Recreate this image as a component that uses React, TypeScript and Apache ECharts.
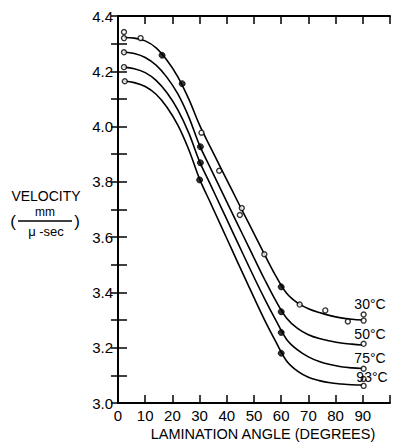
import React, { useEffect, useRef } from "react";
import * as echarts from "echarts";

const ANGLES = [2, 6, 10, 14, 18, 22, 26, 30, 34, 38, 42, 46, 50, 54, 58, 62, 66, 70, 74, 78, 82, 86, 90];
const V30 = [4.322, 4.32, 4.31, 4.285, 4.24, 4.18, 4.1, 4.005, 3.925, 3.846, 3.768, 3.69, 3.613, 3.535, 3.46, 3.397, 3.362, 3.341, 3.327, 3.316, 3.308, 3.303, 3.3];
const V50 = [4.27, 4.264, 4.25, 4.222, 4.178, 4.118, 4.035, 3.932, 3.85, 3.768, 3.687, 3.606, 3.525, 3.445, 3.37, 3.307, 3.27, 3.247, 3.233, 3.224, 3.217, 3.213, 3.21];
const V75 = [4.215, 4.209, 4.195, 4.167, 4.122, 4.06, 3.977, 3.873, 3.79, 3.706, 3.622, 3.538, 3.455, 3.375, 3.3, 3.23, 3.192, 3.167, 3.15, 3.139, 3.131, 3.127, 3.125];
const V93 = [4.165, 4.159, 4.145, 4.117, 4.07, 4.005, 3.917, 3.81, 3.724, 3.638, 3.552, 3.466, 3.381, 3.298, 3.222, 3.152, 3.115, 3.093, 3.081, 3.073, 3.069, 3.066, 3.065];

const OPEN_PTS: [number, number][] = [
  [2.2, 4.342], [2.2, 4.32], [8.3, 4.32], [30.7, 3.978], [37.2, 3.84],
  [45.5, 3.705], [44.8, 3.68], [53.8, 3.538], [66.8, 3.356], [76.2, 3.335],
  [84.5, 3.295], [90.3, 3.32], [90.3, 3.298],
  [2.2, 4.269], [90.3, 3.214],
  [2.2, 4.215], [90.3, 3.124],
  [2.5, 4.164], [90.3, 3.087], [90.3, 3.062],
];
const FILLED_PTS: [number, number][] = [
  [16.2, 4.258], [23.6, 4.155], [30.3, 3.927], [30.3, 3.869], [30, 3.807],
  [60, 3.42], [60, 3.33], [60, 3.255], [60, 3.18],
];
const CURVE_LABELS = ["30°C", "50°C", "75°C", "93°C"];
const X_TICKS_MAX = 100;

const FONT = "Liberation Sans, Arial, sans-serif";

export default function App() {
  const ref = useRef<HTMLDivElement>(null);
  useEffect(() => {
    if (!ref.current) return;
    const chart = echarts.init(ref.current, null, { renderer: "svg" });
    const curves = [V30, V50, V75, V93];
    const lineSeries = curves.map((vals, i) => ({
      type: "line",
      name: CURVE_LABELS[i],
      data: ANGLES.map((a, j) => [a, vals[j]]),
      smooth: 0.35,
      showSymbol: false,
      lineStyle: { color: "#000", width: 1.6 },
      xAxisIndex: 0,
      yAxisIndex: 0,
      z: 2,
    }));
    const axisLine = { show: true, lineStyle: { color: "#000", width: 2 } };
    const labelPos = [
      { x: 370, y: 304 },
      { x: 370, y: 334 },
      { x: 370, y: 358 },
      { x: 372, y: 377 },
    ];
    chart.setOption({
      animation: false,
      backgroundColor: "#fff",
      grid: { left: 118, right: -2, top: 16, bottom: 40, containLabel: false },
      xAxis: [
        {
          type: "value",
          min: 0,
          max: X_TICKS_MAX,
          interval: 10,
          position: "bottom",
          axisLine,
          axisTick: { show: true, inside: true, length: 8, lineStyle: { color: "#000", width: 1.5 } },
          splitLine: { show: false },
          axisLabel: {
            color: "#000",
            fontFamily: FONT,
            fontSize: 15,
            margin: 5,
            formatter: (v: number) => (v >= 100 ? "" : String(v)),
          },
        },
        {
          type: "value",
          min: 0,
          max: X_TICKS_MAX,
          interval: 10,
          position: "top",
          axisLine,
          axisTick: { show: true, inside: true, length: 8, lineStyle: { color: "#000", width: 1.5 } },
          splitLine: { show: false },
          axisLabel: { show: false },
        },
      ],
      yAxis: [
        {
          type: "value",
          min: 3.0,
          max: 4.4,
          interval: 0.1,
          position: "left",
          axisLine,
          axisTick: { show: true, inside: true, length: 9, lineStyle: { color: "#000", width: 1.5 } },
          splitLine: { show: false },
          axisLabel: {
            color: "#000",
            fontFamily: FONT,
            fontSize: 15,
            margin: 5,
            formatter: (v: number) => (Math.round(v * 10) % 2 === 0 ? v.toFixed(1) : ""),
          },
        },
        {
          type: "value",
          min: 3.0,
          max: 4.4,
          interval: 0.1,
          position: "right",
          axisLine,
          axisTick: { show: true, inside: true, length: 7, lineStyle: { color: "#000", width: 1.5 } },
          splitLine: { show: false },
          axisLabel: { show: false },
        },
      ],
      series: [
        ...lineSeries,
        {
          type: "scatter",
          data: OPEN_PTS,
          symbol: "circle",
          symbolSize: 5,
          itemStyle: { color: "#fff", borderColor: "#000", borderWidth: 1.4 },
          z: 3,
        },
        {
          type: "scatter",
          data: FILLED_PTS,
          symbol: "circle",
          symbolSize: 6,
          itemStyle: { color: "#000", borderColor: "#000", borderWidth: 1 },
          z: 3,
        },
      ],
      graphic: [
        ...CURVE_LABELS.map((t, i) => ({
          type: "text",
          x: labelPos[i].x,
          y: labelPos[i].y,
          style: {
            text: t,
            fill: "#000",
            font: `14px ${FONT}`,
            align: "center",
            verticalAlign: "middle",
          },
          z: 10,
        })),
        {
          type: "text",
          x: 263,
          y: 434,
          style: {
            text: "LAMINATION ANGLE (DEGREES)",
            fill: "#000",
            font: `14.5px ${FONT}`,
            align: "center",
            verticalAlign: "middle",
          },
        },
        {
          type: "text",
          x: 46,
          y: 196,
          style: { text: "VELOCITY", fill: "#000", font: `14px ${FONT}`, align: "center", verticalAlign: "middle" },
        },
        {
          type: "text",
          x: 45,
          y: 212,
          style: { text: "mm", fill: "#000", font: `12px ${FONT}`, align: "center", verticalAlign: "middle" },
        },
        {
          type: "line",
          shape: { x1: 18, y1: 221, x2: 72, y2: 221 },
          style: { stroke: "#000", lineWidth: 1.5 },
        },
        {
          type: "text",
          x: 46,
          y: 231,
          style: { text: "μ -sec", fill: "#000", font: `13px ${FONT}`, align: "center", verticalAlign: "middle" },
        },
        {
          type: "text",
          x: 13,
          y: 221,
          style: { text: "(", fill: "#000", font: `17px ${FONT}`, align: "center", verticalAlign: "middle" },
        },
        {
          type: "text",
          x: 77,
          y: 221,
          style: { text: ")", fill: "#000", font: `17px ${FONT}`, align: "center", verticalAlign: "middle" },
        },
      ],
    });
    return () => chart.dispose();
  }, []);
  return (
    <div
      ref={ref}
      style={{ position: "absolute", left: 0, top: 0, width: 393, height: 443 }}
    />
  );
}
